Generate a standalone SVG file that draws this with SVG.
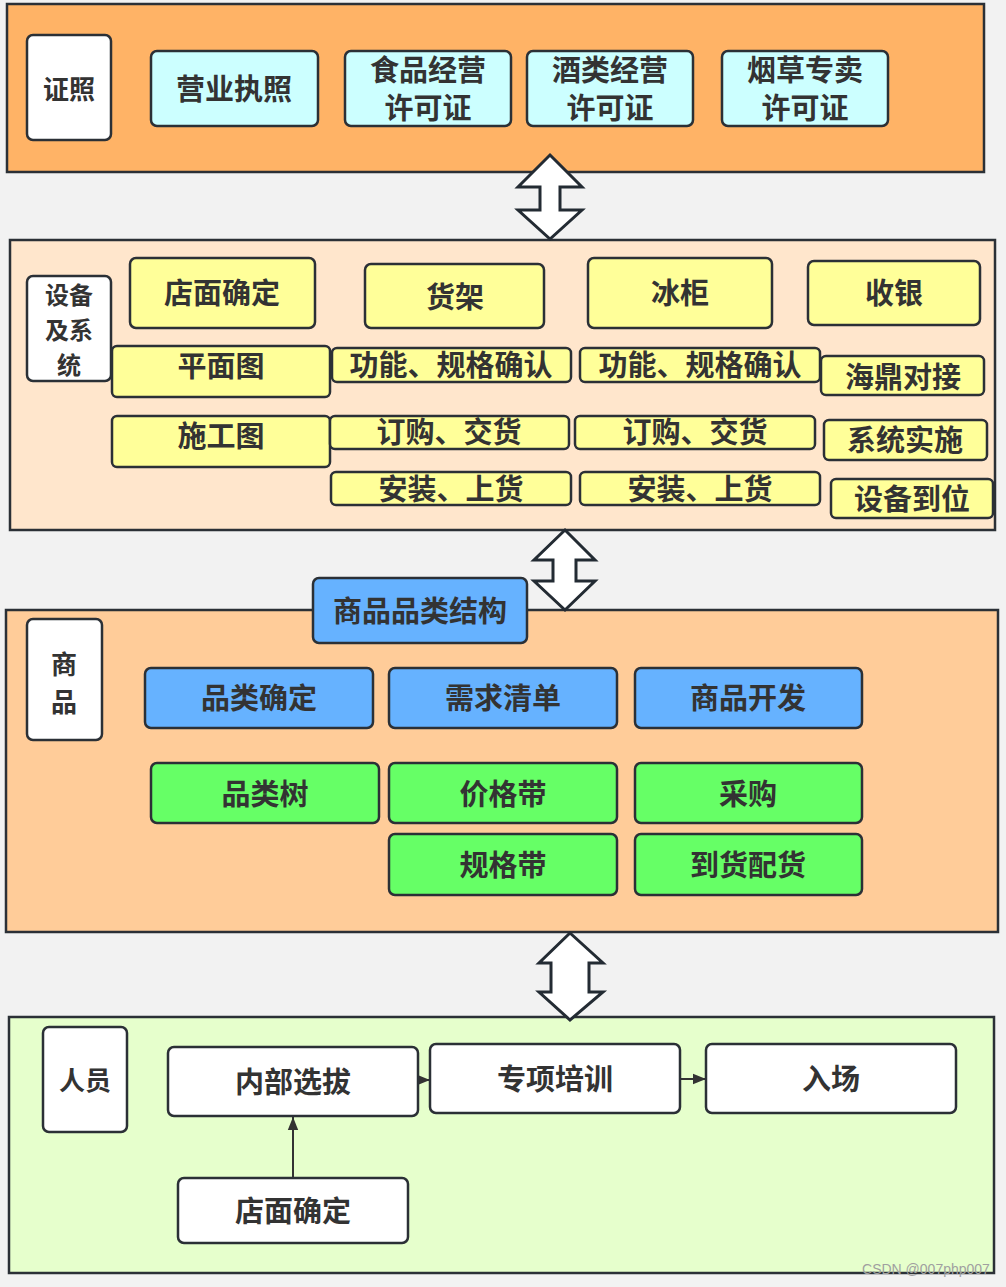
<svg xmlns="http://www.w3.org/2000/svg" width="1006" height="1287" viewBox="0 0 1006 1287">
<defs>
<style>
.sec{stroke:#2b3036;stroke-width:2.5}
.n{stroke:#2b3036;stroke-width:2.5}
.w{fill:#ffffff}
.c{fill:#ccffff}
.y{fill:#ffff99}
.b{fill:#66b2ff}
.g{fill:#66ff66}
text{font-family:"Noto Sans CJK SC","Noto Sans",sans-serif;font-weight:700;fill:#333333;text-anchor:middle;dominant-baseline:central}
.t{font-size:29px}
.s{font-size:26px}
.s2{font-size:24px}
.big{fill:#ffffff;stroke:#232b33;stroke-width:3;stroke-linejoin:miter}
.ln{stroke:#333333;stroke-width:2;fill:none}
</style>
<marker id="ah" viewBox="0 0 10 10" refX="10" refY="5" markerWidth="13" markerHeight="13" markerUnits="userSpaceOnUse" orient="auto">
<path d="M0,1 L10,5 L0,9 z" fill="#333333"/>
</marker>
</defs>
<rect x="0" y="0" width="1006" height="1287" fill="#f2f2f2"/>

<g id="sections">
<rect id="sec-license" class="sec" x="7" y="4" width="977" height="168" fill="#ffb366"/>
<rect id="sec-equip" class="sec" x="10" y="240" width="985" height="290" fill="#ffe6cc"/>
<rect id="sec-goods" class="sec" x="6" y="610" width="992" height="322" fill="#ffcc99"/>
<rect id="sec-staff" class="sec" x="9" y="1017" width="985" height="256" fill="#e6ffcc"/>
</g>

<g id="connectors">
<polygon class="big" points="550,155 582,187 560,187 560,210 582,210 550,239 518,210 540,210 540,187 518,187"/>
<polygon class="big" points="565,530 595,560 576,560 576,581 595,581 565,610 534,581 553,581 553,560 534,560"/>
<polygon class="big" points="570,933 603,963 589,963 589,992 603,992 570,1020 539,992 551,992 551,963 539,963"/>
<line class="ln" x1="414" y1="1080" x2="430" y2="1080" marker-end="url(#ah)"/>
<line class="ln" x1="680" y1="1079" x2="706" y2="1079" marker-end="url(#ah)"/>
<line class="ln" x1="293" y1="1178" x2="293" y2="1117" marker-end="url(#ah)"/>
</g>

<!-- Section 1 -->
<g id="lbl-license"><rect class="n w" x="27" y="35" width="84" height="105" rx="6"/><text class="s" x="69" y="87">证照</text></g>
<g id="n-yyzz"><rect class="n c" x="151" y="51" width="167" height="75" rx="6"/><text class="t" x="234" y="87">营业执照</text></g>
<g id="n-spjy"><rect class="n c" x="345" y="51" width="166" height="75" rx="6"/><text class="t" x="428" y="68">食品经营<tspan x="428" dy="38">许可证</tspan></text></g>
<g id="n-jljy"><rect class="n c" x="527" y="51" width="166" height="75" rx="6"/><text class="t" x="610" y="68">酒类经营<tspan x="610" dy="38">许可证</tspan></text></g>
<g id="n-yczm"><rect class="n c" x="722" y="51" width="166" height="75" rx="6"/><text class="t" x="805" y="68">烟草专卖<tspan x="805" dy="38">许可证</tspan></text></g>

<!-- Section 2 -->
<g id="lbl-equip"><rect class="n w" x="27" y="276" width="84" height="105" rx="6"/><text class="s2" x="69" y="293">设备<tspan x="69" dy="35">及系</tspan><tspan x="69" dy="35">统</tspan></text></g>
<g id="n-dmqd"><rect class="n y" x="130" y="258" width="185" height="70" rx="6"/><text class="t" x="222" y="291">店面确定</text></g>
<g id="n-hj"><rect class="n y" x="365" y="264" width="179" height="64" rx="6"/><text class="t" x="455" y="295">货架</text></g>
<g id="n-bg"><rect class="n y" x="588" y="258" width="184" height="70" rx="6"/><text class="t" x="680" y="291">冰柜</text></g>
<g id="n-sy"><rect class="n y" x="808" y="261" width="172" height="64" rx="6"/><text class="t" x="894" y="291">收银</text></g>
<g id="n-pmt"><rect class="n y" x="112" y="346" width="218" height="51" rx="5"/><text class="t" x="221" y="364">平面图</text></g>
<g id="n-sgt"><rect class="n y" x="112" y="416" width="218" height="51" rx="5"/><text class="t" x="221" y="434">施工图</text></g>
<g id="n-gn1"><rect class="n y" x="332" y="348" width="239" height="34" rx="5"/><text class="t" x="451" y="363">功能、规格确认</text></g>
<g id="n-gn2"><rect class="n y" x="580" y="348" width="240" height="34" rx="5"/><text class="t" x="700" y="363">功能、规格确认</text></g>
<g id="n-hddj"><rect class="n y" x="821" y="356" width="163" height="39" rx="5"/><text class="t" x="903" y="375">海鼎对接</text></g>
<g id="n-dg1"><rect class="n y" x="330" y="416" width="239" height="33" rx="5"/><text class="t" x="449" y="430">订购、交货</text></g>
<g id="n-dg2"><rect class="n y" x="575" y="416" width="240" height="33" rx="5"/><text class="t" x="695" y="430">订购、交货</text></g>
<g id="n-xtss"><rect class="n y" x="824" y="420" width="163" height="40" rx="5"/><text class="t" x="905" y="438">系统实施</text></g>
<g id="n-az1"><rect class="n y" x="331" y="472" width="240" height="33" rx="5"/><text class="t" x="451" y="487">安装、上货</text></g>
<g id="n-az2"><rect class="n y" x="580" y="472" width="240" height="33" rx="5"/><text class="t" x="700" y="487">安装、上货</text></g>
<g id="n-sbdw"><rect class="n y" x="831" y="479" width="162" height="39" rx="5"/><text class="t" x="912" y="497">设备到位</text></g>

<!-- Section 3 -->
<g id="lbl-goods"><rect class="n w" x="27" y="619" width="75" height="121" rx="6"/><text class="s" x="64" y="662">商<tspan x="64" dy="38">品</tspan></text></g>
<g id="n-splljg"><rect class="n b" x="313" y="578" width="214" height="65" rx="6"/><text class="t" x="420" y="609">商品品类结构</text></g>
<g id="n-pldd"><rect class="n b" x="145" y="668" width="228" height="60" rx="6"/><text class="t" x="259" y="696">品类确定</text></g>
<g id="n-xqqd"><rect class="n b" x="389" y="668" width="228" height="60" rx="6"/><text class="t" x="503" y="696">需求清单</text></g>
<g id="n-spkf"><rect class="n b" x="635" y="668" width="227" height="60" rx="6"/><text class="t" x="748" y="696">商品开发</text></g>
<g id="n-pls"><rect class="n g" x="151" y="763" width="228" height="60" rx="6"/><text class="t" x="265" y="792">品类树</text></g>
<g id="n-jgd"><rect class="n g" x="389" y="763" width="228" height="60" rx="6"/><text class="t" x="503" y="792">价格带</text></g>
<g id="n-cg"><rect class="n g" x="635" y="763" width="227" height="60" rx="6"/><text class="t" x="748" y="792">采购</text></g>
<g id="n-ggd"><rect class="n g" x="389" y="834" width="228" height="61" rx="6"/><text class="t" x="503" y="863">规格带</text></g>
<g id="n-dhph"><rect class="n g" x="635" y="834" width="227" height="61" rx="6"/><text class="t" x="748" y="863">到货配货</text></g>

<!-- Section 4 -->
<g id="lbl-staff"><rect class="n w" x="43" y="1027" width="84" height="105" rx="6"/><text class="s" x="85" y="1078">人员</text></g>
<g id="n-nbxb"><rect class="n w" x="168" y="1047" width="250" height="69" rx="6"/><text class="t" x="293" y="1080">内部选拔</text></g>
<g id="n-zxpx"><rect class="n w" x="430" y="1044" width="250" height="69" rx="6"/><text class="t" x="555" y="1077">专项培训</text></g>
<g id="n-rc"><rect class="n w" x="706" y="1044" width="250" height="69" rx="6"/><text class="t" x="831" y="1077">入场</text></g>
<g id="n-dmqd2"><rect class="n w" x="178" y="1178" width="230" height="65" rx="6"/><text class="t" x="293" y="1209">店面确定</text></g>

<text x="926" y="1269" style="font-family:'Liberation Sans',sans-serif;font-weight:400;font-size:14px;fill:#a0a0a0">CSDN @007php007</text>
</svg>
